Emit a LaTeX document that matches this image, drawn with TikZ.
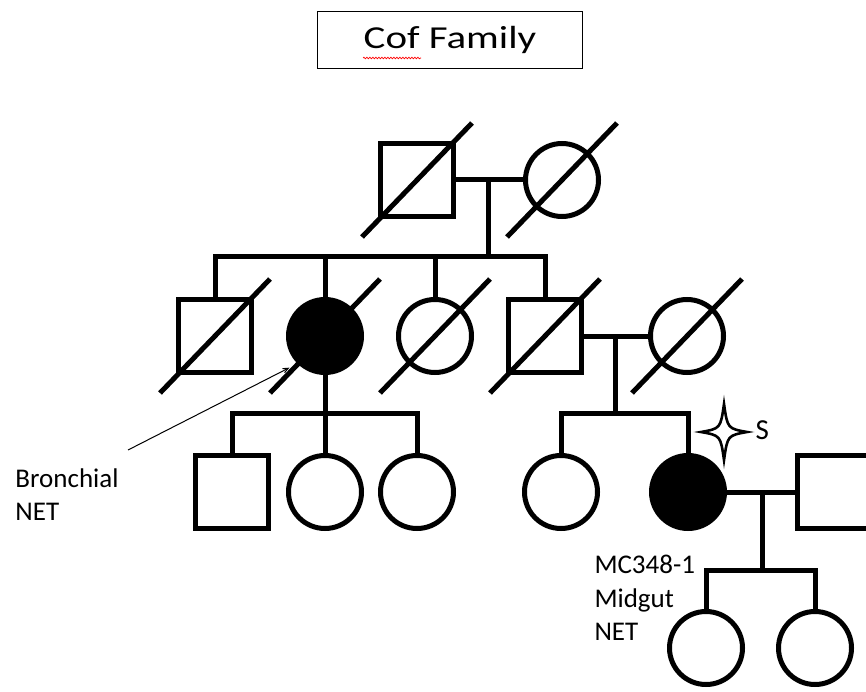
\documentclass[tikz,border=0pt]{standalone}
\usepackage{fontspec}
\setmainfont{Carlito}
\usetikzlibrary{arrows}
\usetikzlibrary{positioning}
\usetikzlibrary{decorations.pathmorphing}

\begin{document}
\begin{tikzpicture}[x=1pt,y=1pt,line width=5pt,node distance=110pt,
  male/.style={rectangle,draw,minimum size=73pt,inner sep=0pt},
  female/.style={circle,draw,minimum size=73pt,inner sep=0pt},
  affected/.style={fill=black},
  note/.style={align=left,inner sep=0pt,anchor=north west,font=\fontsize{27}{33.5}\selectfont}]
  \clip (0,0) rectangle (866,-692);
  \fill[white] (0,0) rectangle (866,-692);
  % title
  \node[draw,line width=1pt,minimum width=265pt,minimum height=57pt,
    font=\fontsize{32}{32}\selectfont] (title) at (450,-40) {\scalebox{1.28}[1]{Cof Family}};
  \draw[red,line width=0.7pt,decorate,decoration={snake,amplitude=0.8pt,segment length=3pt}]
    (363,-58) -- (421,-58);
  % generation I
  \node[male] (i1) at (417,-180) {};
  \node[female] (i2) [right of=i1,node distance=145pt] {};
  % generation II
  \node[male] (ii1) at (215,-336) {};
  \node[female,affected] (ii2) [right of=ii1] {};
  \node[female] (ii3) [right of=ii2] {};
  \node[male] (ii4) [right of=ii3] {};
  \node[female] (ii5) [right of=ii4,node distance=142pt] {};
  % generation III
  \node[male] (iii1) at (232,-492) {};
  \node[female] (iii2) [below of=ii2,node distance=156pt] {};
  \node[female] (iii3) at (417,-492) {};
  \node[female] (iii4) at (561,-492) {};
  \node[female,affected] (iii5) [right of=iii4,node distance=127pt] {};
  \node[male] (iii6) at (834,-492) {};
  % generation IV
  \node[female] (iv1) at (706,-648) {};
  \node[female] (iv2) [right of=iv1,node distance=109pt] {};

  \coordinate (m1) at (488,-180);
  \coordinate (s1) at (488,-257);
  \coordinate (m2) at (615,-336);
  \coordinate (s2) at (615,-413);
  \coordinate (s3) at (325,-413);
  \coordinate (m3) at (762,-492);
  \coordinate (s4) at (762,-570);

  \draw (i1) -- (i2);
  \draw (m1) -- (s1);
  \draw (ii1.north) |- (s1) -| (ii4.north);
  \draw (ii2.north) -- (ii2.north |- s1);
  \draw (ii3.north) -- (ii3.north |- s1);
  \draw (ii4) -- (ii5);
  \draw (m2) -- (s2);
  \draw (iii4.north) |- (s2) -| (iii5.north);
  \draw (ii2) -- (iii2);
  \draw (iii1.north) |- (s3) -| (iii3.north);
  \draw (iii5) -- (iii6);
  \draw (m3) -- (s4);
  \draw (iv1.north) |- (s4) -| (iv2.north);
  % deceased
  \foreach \n in {i1,i2,ii1,ii2,ii3,ii4,ii5}
    \draw ([shift={(-55pt,-57pt)}]\n.center) -- ([shift={(55pt,57pt)}]\n.center);

  % proband mark
  \coordinate (star) at (724,-432);
  \draw[line width=2.6pt,fill=white,shift={(star)}] (0,28) .. controls (3.5,3.5) .. (23,0)
    .. controls (3.5,-3.5) .. (0,-28) .. controls (-3.5,-3.5) .. (-23,0)
    .. controls (-3.5,3.5) .. (0,28) -- cycle;
  \node[font=\fontsize{29}{29}\selectfont,inner sep=0pt,anchor=west] (smark) at (753,-430) {S};

  \node[note] (bronch) at (13,-466) {Bronchial\\NET};
  \node[note] (midgut) at (592,-553) {MC348-1\\Midgut\\NET};
  \draw[->,>=angle 45,line width=1pt,shorten >=9pt]
    ([shift={(7pt,16pt)}]bronch.north east) -- (ii2.south west);
\end{tikzpicture}
\end{document}
